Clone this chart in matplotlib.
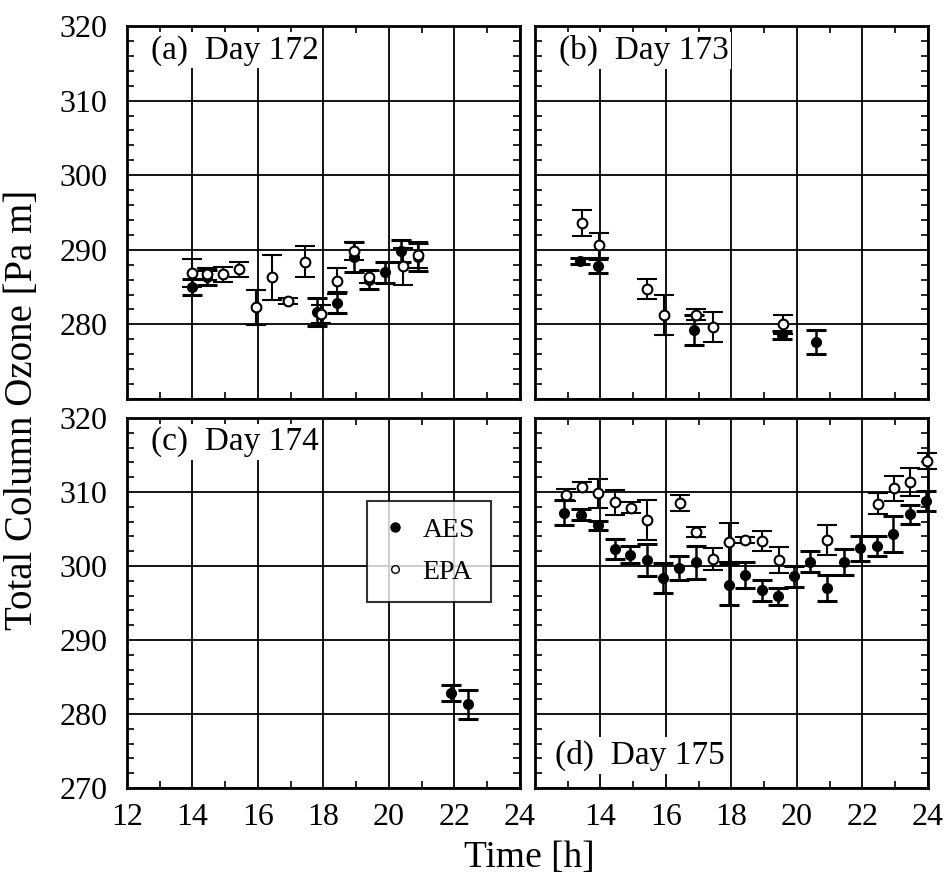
import numpy as np
import matplotlib
matplotlib.use("Agg")
import matplotlib.pyplot as plt
from matplotlib.ticker import MultipleLocator
from matplotlib.lines import Line2D

plt.rcParams['font.family'] = ['Liberation Serif', 'DejaVu Serif']

# Day 172
a_aes_t = [14.0, 14.45, 17.8, 18.42, 18.92, 19.4, 19.88, 20.36, 20.9]
a_aes_v = [285.0, 286.3, 281.7, 282.9, 289.0, 286.0, 287.0, 289.8, 289.0]
a_aes_e = [1.1, 1.0, 1.9, 1.4, 2.0, 1.3, 1.4, 1.5, 1.9]
a_epa_t = [14.0, 14.45, 14.94, 15.43, 15.94, 16.42, 16.93, 17.44, 17.92, 18.4,
           18.92, 19.4, 20.42, 20.9]
a_epa_v = [286.9, 286.7, 286.7, 287.4, 282.3, 286.3, 283.1, 288.4, 281.4, 285.8,
           289.8, 286.4, 287.8, 289.3]
a_epa_e = [1.9, 0.8, 1.0, 1.0, 2.35, 3.0, 0.4, 2.1, 1.2, 1.7, 1.2, 0.8, 2.5, 1.8]

# Day 173
b_aes_t = [13.37, 13.91, 16.87, 19.55, 20.58]
b_aes_v = [288.5, 287.8, 279.2, 278.6, 277.6]
b_aes_e = [0.4, 0.9, 2.0, 0.5, 1.6]
b_epa_t = [13.44, 13.95, 15.43, 15.94, 16.92, 17.42, 19.58]
b_epa_v = [293.6, 290.6, 284.8, 281.3, 281.3, 279.7, 280.0]
b_epa_e = [1.8, 1.7, 1.35, 2.7, 0.7, 2.0, 1.3]

# Day 174
c_aes_t = [21.89, 22.4]
c_aes_v = [282.8, 281.3]
c_aes_e = [1.1, 2.0]

# Day 175
d_aes_t = [12.9, 13.4, 13.93, 14.44, 14.9, 15.41, 15.92, 16.41, 16.91, 17.93, 18.41,
           18.92, 19.43, 19.92, 20.4, 20.91, 21.42, 21.92, 22.43, 22.92, 23.45, 23.94]
d_aes_v = [307.2, 306.9, 305.5, 302.3, 301.5, 300.8, 298.4, 299.7, 300.5, 297.5, 298.8,
           296.7, 295.9, 298.6, 300.6, 297.0, 300.6, 302.4, 302.7, 304.3, 307.0, 308.8]
d_aes_e = [1.7, 0.75, 0.6, 1.3, 1.15, 2.2, 2.05, 1.6, 2.2, 2.8, 1.75,
           1.45, 1.15, 1.4, 1.45, 1.75, 1.75, 1.7, 1.4, 2.4, 1.3, 1.4]
d_epa_t = [12.95, 13.43, 13.93, 14.44, 14.92, 15.43, 16.43, 16.91, 17.43, 17.93, 18.41,
           18.94, 19.45, 20.93, 22.46, 22.96, 23.45, 23.96]
d_epa_v = [309.6, 310.7, 309.8, 308.6, 307.9, 306.2, 308.5, 304.6, 301.0, 303.2, 303.5,
           303.4, 300.8, 303.5, 308.4, 310.5, 311.4, 314.2]
d_epa_e = [0.8, 0.7, 2.0, 1.65, 0.7, 2.7, 1.1, 0.7, 1.5, 2.65, 0.4,
           1.35, 1.75, 2.0, 1.4, 1.65, 1.9, 1.05]

panels = [
    ("(a)  Day 172", (a_aes_t, a_aes_v, a_aes_e), (a_epa_t, a_epa_v, a_epa_e)),
    ("(b)  Day 173", (b_aes_t, b_aes_v, b_aes_e), (b_epa_t, b_epa_v, b_epa_e)),
    ("(c)  Day 174", (c_aes_t, c_aes_v, c_aes_e), None),
    ("(d)  Day 175", (d_aes_t, d_aes_v, d_aes_e), (d_epa_t, d_epa_v, d_epa_e)),
]

W, H = 945, 882
fig = plt.figure(figsize=(W / 100, H / 100), dpi=100)

# axes boxes in pixels: left, top, right, bottom
boxes = [(127, 26, 520, 399), (535, 26, 928, 399),
         (127, 418, 520, 788), (535, 418, 928, 788)]

for i, (box, (label, aes, epa)) in enumerate(zip(boxes, panels)):
    l, t, r, b = box
    ax = fig.add_axes([l / W, 1 - b / H, (r - l) / W, (b - t) / H])
    ax.set_xlim(12, 24)
    ax.set_ylim(270, 320)
    ax.xaxis.set_major_locator(MultipleLocator(2))
    ax.xaxis.set_minor_locator(MultipleLocator(1))
    ax.yaxis.set_major_locator(MultipleLocator(10))
    ax.yaxis.set_minor_locator(MultipleLocator(2))
    ax.grid(True, which='major', color='black', linewidth=1.3)
    ax.tick_params(which='both', direction='in', top=True, right=True,
                   labelsize=23, width=1.2)
    ax.tick_params(which='major', length=0)
    ax.tick_params(axis='y', which='major', pad=14)
    ax.tick_params(axis='x', which='major', pad=11)
    ax.tick_params(which='minor', length=5)
    for sp in ax.spines.values():
        sp.set_linewidth(2)

    # labels only on outer panels
    if i % 2 == 1:
        ax.set_yticklabels([])
    if i < 2:
        ax.set_xticklabels([])
        ax.set_yticks([270, 280, 290, 300, 310, 320])
        if i == 0:
            ax.set_yticklabels(['', '280', '290', '300', '310', '320'])
    if i == 3:
        ax.set_xticks([12, 14, 16, 18, 20, 22, 24])
        ax.set_xticklabels(['', '14', '16', '18', '20', '22', '24'])

    ax.errorbar(aes[0], aes[1], yerr=aes[2], fmt='o', color='black',
                markerfacecolor='black', markersize=7, elinewidth=1.8,
                capsize=7, capthick=2.2, zorder=3, clip_on=False)
    if epa is not None:
        ax.errorbar(epa[0], epa[1], yerr=epa[2], fmt='o', color='black',
                    markerfacecolor='white', markeredgewidth=1.5, markersize=7,
                    elinewidth=1.5, capsize=7, capthick=2.0, zorder=4,
                    clip_on=False)

    if i == 3:
        ax.text(0.05, 0.045, label, transform=ax.transAxes, fontsize=24,
                ha='left', va='bottom', zorder=5,
                bbox=dict(facecolor='white', edgecolor='none', pad=2))
    else:
        ax.text(0.06, 0.935, label, transform=ax.transAxes, fontsize=24,
                ha='left', va='center', zorder=5,
                bbox=dict(facecolor='white', edgecolor='none', pad=2))

    if i == 2:
        handles = [Line2D([], [], marker='o', ls='none', color='black',
                          markerfacecolor='black', markersize=6.5),
                   Line2D([], [], marker='o', ls='none', color='black',
                          markerfacecolor='white', markersize=5.5)]
        leg = ax.legend(handles, ['AES', 'EPA'], loc='center left',
                        bbox_to_anchor=(0.61, 0.64), fontsize=20, frameon=True,
                        fancybox=False, handlelength=0.8, handletextpad=0.6,
                        labelspacing=0.6, borderpad=0.6, borderaxespad=0)
        leg.get_frame().set_edgecolor('black')
        leg.get_frame().set_linewidth(1.5)
        leg.set_zorder(6)

fig.text(0.024, 0.535, 'Total Column Ozone [Pa m]', rotation=90, fontsize=28,
         ha='center', va='center')
fig.text(0.56, 0.028, 'Time [h]', fontsize=27, ha='center', va='center')

fig.savefig('out.png', dpi=100)
